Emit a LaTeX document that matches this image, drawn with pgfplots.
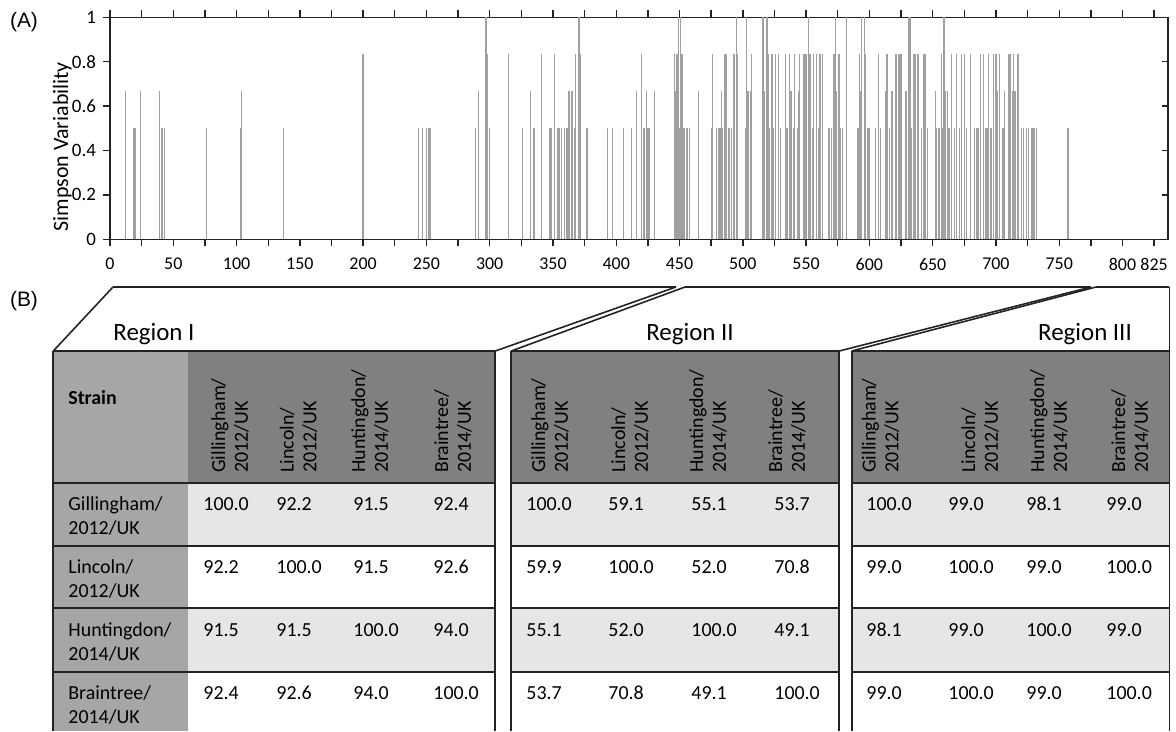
\documentclass[border=0pt]{standalone}
\usepackage{fontspec}
\setmainfont{Carlito}
\newfontfamily\arialfont{Liberation Sans}
\usepackage{pgfplots}
\pgfplotsset{compat=1.18}
\usepackage{pgfplotstable}

\definecolor{barcol}{RGB}{160,160,160}
\definecolor{hdrdark}{RGB}{128,128,128}
\definecolor{hdrlight}{RGB}{166,166,166}
\definecolor{rowlight}{RGB}{230,230,230}
\definecolor{rulecol}{RGB}{35,35,35}

% Simpson variability per alignment position
\pgfplotstableread[row sep=\\]{
pos val\\
12 0.667\\ 19 0.5\\ 20 0.5\\ 24 0.667\\ 39 0.667\\ 41 0.5\\ 43 0.5\\ 76 0.5\\
103 0.5\\ 104 0.667\\ 137 0.5\\ 200 0.833\\ 244 0.5\\ 247 0.5\\ 250 0.5\\ 252 0.5\\
253 0.5\\ 289 0.5\\ 291 0.667\\ 297 1.0\\ 298 0.833\\ 300 0.5\\ 315 0.833\\ 326 0.5\\
332 0.667\\ 335 0.5\\ 341 0.833\\ 347 0.5\\ 348 0.5\\ 349 0.5\\ 351 0.833\\ 354 0.5\\
355 0.5\\ 357 0.5\\ 359 0.5\\ 361 0.5\\ 362 0.667\\ 363 0.667\\ 365 0.667\\ 367 0.5\\
368 0.833\\ 370 1.0\\ 371 1.0\\ 372 0.833\\ 377 0.5\\ 393 0.5\\ 397 0.5\\ 406 0.5\\
412 0.5\\ 416 0.667\\ 420 0.833\\ 422 0.5\\ 424 0.667\\ 425 0.5\\ 426 0.5\\ 430 0.667\\
446 0.833\\ 447 0.667\\ 448 0.833\\ 449 1.0\\ 450 0.5\\ 451 1.0\\ 452 0.833\\ 453 0.5\\
454 0.5\\ 456 0.5\\ 458 0.5\\ 465 0.667\\ 475 0.5\\ 476 0.833\\ 479 0.5\\ 481 0.5\\
482 0.5\\ 483 0.667\\ 484 0.5\\ 486 0.833\\ 487 0.833\\ 489 0.5\\ 491 0.5\\ 493 0.833\\
495 1.0\\ 496 0.833\\ 502 0.5\\ 503 1.0\\ 504 0.667\\ 506 0.667\\ 507 0.833\\ 516 1.0\\
517 0.667\\ 519 1.0\\ 520 0.833\\ 521 0.5\\ 523 0.833\\ 524 0.5\\ 526 0.833\\ 528 0.833\\
530 0.5\\ 534 0.833\\ 535 0.5\\ 537 0.833\\ 538 0.667\\ 540 0.5\\ 541 0.833\\ 543 0.5\\
544 0.667\\ 545 0.833\\ 548 0.833\\ 549 0.833\\ 550 0.833\\ 552 1.0\\ 553 0.833\\ 555 0.5\\
556 0.833\\ 558 0.833\\ 560 0.5\\ 561 0.833\\ 563 0.833\\ 568 0.5\\ 570 0.5\\ 572 0.833\\
573 1.0\\ 574 0.667\\ 576 0.833\\ 577 0.5\\ 579 0.5\\ 582 1.0\\ 591 0.5\\ 592 0.833\\
593 0.667\\ 594 1.0\\ 596 1.0\\ 597 0.833\\ 599 0.5\\ 600 0.5\\ 605 0.5\\ 607 0.833\\
609 0.5\\ 613 0.667\\ 614 0.833\\ 616 0.5\\ 618 0.667\\ 621 0.833\\ 623 0.833\\ 624 0.833\\
625 0.833\\ 629 0.667\\ 631 1.0\\ 632 1.0\\ 633 0.5\\ 635 0.833\\ 636 0.833\\ 638 0.833\\
639 0.833\\ 641 0.5\\ 643 0.833\\ 644 0.833\\ 646 0.5\\ 652 0.667\\ 653 0.5\\ 655 0.5\\
657 0.833\\ 658 0.5\\ 659 1.0\\ 660 0.667\\ 662 0.667\\ 663 0.5\\ 665 0.833\\ 667 0.5\\
669 0.833\\ 671 0.5\\ 673 0.833\\ 675 0.833\\ 677 0.5\\ 680 0.833\\ 683 0.5\\ 685 0.5\\
686 0.5\\ 688 0.833\\ 690 0.833\\ 692 0.5\\ 693 0.5\\ 694 0.833\\ 696 0.5\\ 698 0.833\\
700 0.833\\ 701 0.667\\ 703 0.833\\ 705 0.5\\ 706 0.5\\ 707 0.667\\ 710 0.833\\ 711 0.833\\
713 0.667\\ 714 0.833\\ 715 0.667\\ 717 0.833\\ 718 0.833\\ 720 0.5\\ 722 0.5\\ 724 0.5\\
726 0.5\\ 728 0.5\\ 729 0.5\\ 730 0.5\\ 732 0.5\\ 757 0.5\\
}\simpson

\newcommand{\tfont}{\fontsize{10}{12.5}\selectfont}

\begin{document}
\begin{tikzpicture}[x=0.5bp,y=-0.5bp]
\path[use as bounding box] (0,0) rectangle (1176,731);

% ---------- (A) Simpson variability ----------
\begin{axis}[
    at={(55bp,-119.65bp)}, anchor=south west,
    width=529bp, height=111bp, scale only axis,
    xmin=0, xmax=836, ymin=0, ymax=1,
    xtick={0,25,...,825},
    xticklabels={0,,50,,100,,150,,200,,250,,300,,350,,400,,450,,500,,550,,600,,650,,700,,750,,800,825},
    ytick={0,0.2,0.4,0.6,0.8,1},
    yticklabels={0,0.2,0.4,0.6,0.8,1},
    xtick pos=both, ytick pos=left,
    tick align=outside,
    major tick length=3.5bp,
    axis line style={rulecol, line width=0.7bp},
    tick style={rulecol, line width=0.7bp},
    /pgf/number format/assume math mode=true,
    tick label style={font=\fontsize{9.5}{11}\selectfont},
    xticklabel style={font=\fontsize{9}{11}\selectfont, yshift=-2.5bp},
    ylabel={Simpson Variability},
    ylabel style={font=\fontsize{11}{13}\selectfont, at={(axis description cs:-0.045,0.417)}, anchor=center},
    clip=true,
]
\addplot[ycomb, no marks, draw=barcol, line width=0.65bp] table[x=pos, y=val] {\simpson};
\end{axis}
\begin{axis}[
    at={(55bp,-119.65bp)}, anchor=south west,
    width=529bp, height=111bp, scale only axis,
    xmin=0, xmax=836, ymin=0, ymax=1,
    hide x axis, axis y line*=right,
    ytick={0.2,0.4,0.6,0.8}, yticklabels={},
    tick align=inside, major tick length=3bp,
    axis line style={rulecol, line width=0.7bp},
    tick style={rulecol, line width=0.7bp},
]
\end{axis}

\node[font=\arialfont\fontsize{10.5}{12}\selectfont] at (24,22) {(A)};
\node[font=\arialfont\fontsize{10.5}{12}\selectfont] at (24,301) {(B)};

% ---------- (B) connectors ----------
\draw[rulecol, line width=1.4bp] (113,287) -- (676,287);
\draw[rulecol, line width=1.4bp] (685,287) -- (1091,287);
\draw[rulecol, line width=1.4bp] (1096,287) -- (1169,287);
\draw[rulecol, line width=0.8bp] (113,287) -- (53.3,351);
\draw[rulecol, line width=0.8bp] (676,287) -- (495.3,351);
\draw[rulecol, line width=0.8bp] (685,287) -- (511.2,351);
\draw[rulecol, line width=0.8bp] (1091,287) -- (839.2,351);
\draw[rulecol, line width=0.8bp] (1096,287) -- (851.7,351);
\draw[rulecol, line width=0.8bp] (1169.4,287) -- (1169.4,351);

\node[font=\fontsize{12.5}{14}\selectfont, anchor=base west, inner sep=0pt] at (113,340) {Region I};
\node[font=\fontsize{12.5}{14}\selectfont, anchor=base, inner sep=0pt] at (690,340) {Region II};
\node[font=\fontsize{12.5}{14}\selectfont, anchor=base, inner sep=0pt] at (1085,340) {Region III};

% ---------- tables: fills ----------
% table I
\fill[hdrlight] (53.3,351) rectangle (188.3,731);
\fill[hdrdark] (188.3,351) rectangle (495.3,482.7);
\fill[rowlight] (188.3,482.7) rectangle (495.3,545.7);
\fill[rowlight] (188.3,608.3) rectangle (495.3,671.7);
% table II
\fill[hdrdark] (511.2,351) rectangle (839.2,482.7);
\fill[rowlight] (511.2,482.7) rectangle (839.2,545.7);
\fill[rowlight] (511.2,608.3) rectangle (839.2,671.7);
% table III
\fill[hdrdark] (851.7,351) rectangle (1169.4,482.7);
\fill[rowlight] (851.7,482.7) rectangle (1169.4,545.7);
\fill[rowlight] (851.7,608.3) rectangle (1169.4,671.7);

% ---------- tables: rules ----------
\foreach \l/\r in {53.3/495.3, 511.2/839.2, 851.7/1169.4}{
  \foreach \y in {351,482.7,545.7,608.3,671.7}
    \draw[rulecol, line width=0.9bp] (\l,\y) -- (\r,\y);
  \draw[rulecol, line width=0.9bp] (\l,351) -- (\l,731);
  \draw[rulecol, line width=0.9bp] (\r,351) -- (\r,731);
}

% ---------- header text ----------
\node[font=\tfont\bfseries, anchor=west, inner sep=0pt] at (68,398) {Strain};
\foreach \x/\name in {230/{Gillingham/\\2012/UK}, 298.5/{Lincoln/\\2012/UK}, 370/{Huntingdon/\\2014/UK}, 453/{Braintree/\\2014/UK},
                      550/{Gillingham/\\2012/UK}, 630/{Lincoln/\\2012/UK}, 708/{Huntingdon/\\2014/UK}, 787/{Braintree/\\2014/UK},
                      880.5/{Gillingham/\\2012/UK}, 980/{Lincoln/\\2012/UK}, 1049/{Huntingdon/\\2014/UK}, 1130/{Braintree/\\2014/UK}}
  \node[rotate=90, anchor=west, inner sep=0pt, align=left, font=\fontsize{10}{11.5}\selectfont] at (\x,473) {\name};

% row labels
\foreach \y/\name in {516/{Gillingham/\\2012/UK}, 579/{Lincoln/\\2012/UK}, 642/{Huntingdon/\\2014/UK}, 705/{Braintree/\\2014/UK}}
  \node[font=\tfont, align=left, anchor=west, inner sep=0pt] at (68,\y) {\name};

% ---------- identity values ----------
\foreach \y/\a/\b/\c/\d in {504/100.0/92.2/91.5/92.4, 567/92.2/100.0/91.5/92.6, 630/91.5/91.5/100.0/94.0, 693/92.4/92.6/94.0/100.0}{
  \node[font=\tfont, anchor=west, inner sep=0pt] at (203,\y) {\a};
  \node[font=\tfont, anchor=west, inner sep=0pt] at (276,\y) {\b};
  \node[font=\tfont, anchor=west, inner sep=0pt] at (353,\y) {\c};
  \node[font=\tfont, anchor=west, inner sep=0pt] at (433,\y) {\d};
}
\foreach \y/\a/\b/\c/\d in {504/100.0/59.1/55.1/53.7, 567/59.9/100.0/52.0/70.8, 630/55.1/52.0/100.0/49.1, 693/53.7/70.8/49.1/100.0}{
  \node[font=\tfont, anchor=west, inner sep=0pt] at (526,\y) {\a};
  \node[font=\tfont, anchor=west, inner sep=0pt] at (608,\y) {\b};
  \node[font=\tfont, anchor=west, inner sep=0pt] at (691,\y) {\c};
  \node[font=\tfont, anchor=west, inner sep=0pt] at (774,\y) {\d};
}
\foreach \y/\a/\b/\c/\d in {504/100.0/99.0/98.1/99.0, 567/99.0/100.0/99.0/100.0, 630/98.1/99.0/100.0/99.0, 693/99.0/100.0/99.0/100.0}{
  \node[font=\tfont, anchor=west, inner sep=0pt] at (866,\y) {\a};
  \node[font=\tfont, anchor=west, inner sep=0pt] at (948,\y) {\b};
  \node[font=\tfont, anchor=west, inner sep=0pt] at (1026,\y) {\c};
  \node[font=\tfont, anchor=west, inner sep=0pt] at (1106,\y) {\d};
}
\end{tikzpicture}
\end{document}
